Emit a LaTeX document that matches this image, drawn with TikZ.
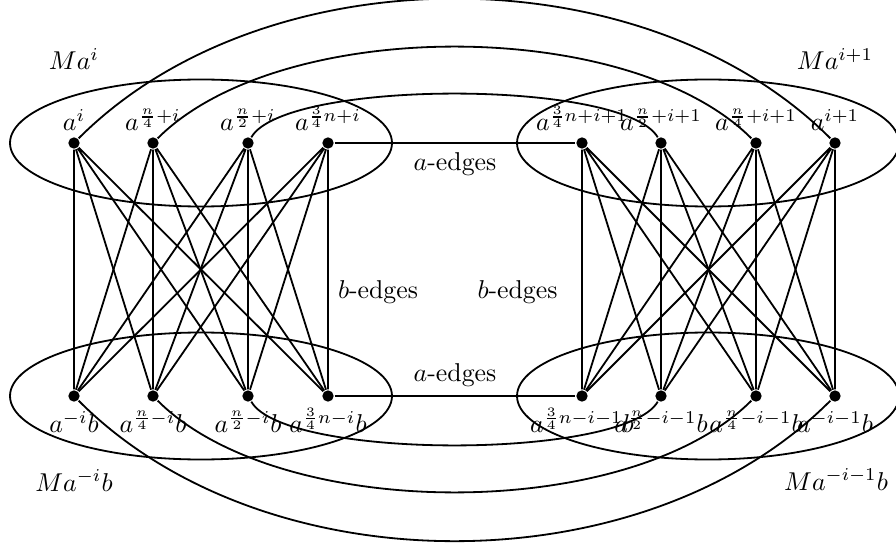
\documentclass[tikz,border=0pt]{standalone}
\begin{document}
\begin{tikzpicture}
    [x=3.876pt,y=3.876pt,line width=0.7pt,
    dot/.style={circle,fill,inner sep=0pt,minimum size=4.4pt},
    toplbl/.style={label={[inner sep=1.8pt]above:#1}},
    botlbl/.style={label={[inner sep=1.8pt,text height=9.4pt]below:#1}}]
    \useasboundingbox (0,0) rectangle (89.6,54.6);
    %top row
    \node[dot,toplbl={$a^i$}] (t1) at (7.4,40.3) {};
    \node[dot,toplbl={$a^{\frac{n}{4}+i}$}] (t2) at (15.3,40.3) {};
    \node[dot,toplbl={$a^{\frac{n}{2}+i}$}] (t3) at (24.8,40.3) {};
    \node[dot,toplbl={$a^{\frac{3}{4}n+i}$}] (t4) at (32.8,40.3) {};
    \node[dot,toplbl={$a^{\frac{3}{4}n+i+1}$}] (t5) at (58.2,40.3) {};
    \node[dot,toplbl={$a^{\frac{n}{2}+i+1}$}] (t6) at (66.1,40.3) {};
    \node[dot,toplbl={$a^{\frac{n}{4}+i+1}$}] (t7) at (75.6,40.3) {};
    \node[dot,toplbl={$a^{i+1}$}] (t8) at (83.5,40.3) {};
    %bottom row
    \node[dot,botlbl={$a^{-i}b$}] (b1) at (7.4,15.0) {};
    \node[dot,botlbl={$a^{\frac{n}{4}-i}b$}] (b2) at (15.3,15.0) {};
    \node[dot,botlbl={$a^{\frac{n}{2}-i}b$}] (b3) at (24.8,15.0) {};
    \node[dot,botlbl={$a^{\frac{3}{4}n-i}b$}] (b4) at (32.8,15.0) {};
    \node[dot,botlbl={$a^{\frac{3}{4}n-i-1}b$}] (b5) at (58.2,15.0) {};
    \node[dot,botlbl={$a^{\frac{n}{2}-i-1}b$}] (b6) at (66.1,15.0) {};
    \node[dot,botlbl={$a^{\frac{n}{4}-i-1}b$}] (b7) at (75.6,15.0) {};
    \node[dot,botlbl={$a^{-i-1}b$}] (b8) at (83.5,15.0) {};
    %cosets
    \draw (20.1,40.3) ellipse [x radius=19.1,y radius=6.35];
    \draw (70.8,40.3) ellipse [x radius=19.1,y radius=6.35];
    \draw (20.1,15.0) ellipse [x radius=19.1,y radius=6.35];
    \draw (70.8,15.0) ellipse [x radius=19.1,y radius=6.35];
    \node[anchor=base] (m1) at (7.4,47.6) {$Ma^i$};
    \node[anchor=base] (m2) at (83.5,47.6) {$Ma^{i+1}$};
    \node[anchor=base] (m3) at (7.4,5.5) {$Ma^{-i}b$};
    \node[anchor=base] (m4) at (83.6,5.6) {$Ma^{-i-1}b$};
    %a-edges
    \draw (t4) -- (t5) node[midway,below]{$a$-edges};
    \draw (b4) -- (b5) node[midway,above]{$a$-edges};
    %b-edges
    \draw (t1) -- (b1) (t1) -- (b2) (t1) -- (b3) (t1) -- (b4);
    \draw (t2) -- (b1) (t2) -- (b2) (t2) -- (b3) (t2) -- (b4);
    \draw (t3) -- (b1) (t3) -- (b2) (t3) -- (b3) (t3) -- (b4);
    \draw (t4) -- (b1) (t4) -- (b2) (t4) -- (b3) (t4) -- (b4);
    \draw (t5) -- (b5) (t5) -- (b6) (t5) -- (b7) (t5) -- (b8);
    \draw (t6) -- (b5) (t6) -- (b6) (t6) -- (b7) (t6) -- (b8);
    \draw (t7) -- (b5) (t7) -- (b6) (t7) -- (b7) (t7) -- (b8);
    \draw (t8) -- (b5) (t8) -- (b6) (t8) -- (b7) (t8) -- (b8);
    \node[anchor=base] (e1) at (37.8,24.8) {$b$-edges};
    \node[anchor=base] (e2) at (51.75,24.8) {$b$-edges};
    %long a-edges
    \draw (t1) .. controls +(19.1,19.1) and +(-19.1,19.1) .. (t8);
    \draw (t2) .. controls +(12.7,12.7) and +(-12.7,12.7) .. (t7);
    \draw (t3) .. controls +(3.7,6.4) and +(-3.7,6.4) .. (t6);
    \draw (b1) .. controls +(19.1,-19.2) and +(-19.1,-19.2) .. (b8);
    \draw (b2) .. controls +(12.7,-12.7) and +(-12.7,-12.7) .. (b7);
    \draw (b3) .. controls +(3.7,-6.4) and +(-3.7,-6.4) .. (b6);
\end{tikzpicture}
\end{document}
